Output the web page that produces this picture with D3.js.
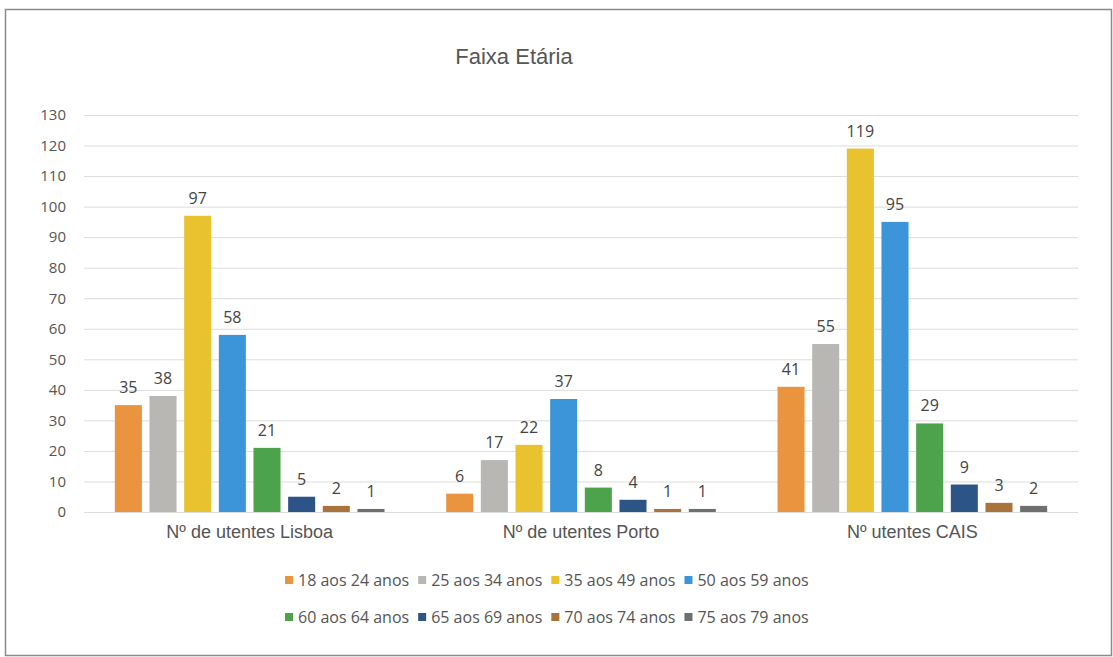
<!DOCTYPE html>
<html><head><meta charset="utf-8">
<script src="https://cdn.jsdelivr.net/npm/d3@7"></script>
<style>body{margin:0;background:#fff}svg{display:block}</style>
</head><body>
<svg id="c" width="1113" height="657"></svg>
<script>
const categories = ["Nº de utentes Lisboa", "Nº de utentes Porto", "Nº utentes CAIS"];
const seriesNames = ["18 aos 24 anos","25 aos 34 anos","35 aos 49 anos","50 aos 59 anos","60 aos 64 anos","65 aos 69 anos","70 aos 74 anos","75 aos 79 anos"];
const s18_24 = [35, 6, 41];
const s25_34 = [38, 17, 55];
const s35_49 = [97, 22, 119];
const s50_59 = [58, 37, 95];
const s60_64 = [21, 8, 29];
const s65_69 = [5, 4, 9];
const s70_74 = [2, 1, 3];
const s75_79 = [1, 1, 2];
const yTicks = [0,10,20,30,40,50,60,70,80,90,100,110,120,130];
const colors = ["#EA9440","#B9B7B3","#E8C22F","#3C95D8","#4DA34B","#2D5486","#A9743C","#6F6F6F"];

(function(){
const seriesValues = [s18_24,s25_34,s35_49,s50_59,s60_64,s65_69,s70_74,s75_79];
const svg = d3.select("#c");
const numFont = "'Open Sans', sans-serif";
const sansFont = "'Liberation Sans', Arial, sans-serif";

// frame
svg.append("rect").attr("x",5.5).attr("y",9.5).attr("width",1106).attr("height",646)
  .attr("fill","#fff").attr("stroke","#8a8a8a").attr("stroke-width",1.5);

const pL = 84, pR = 1078, pT = 115, pB = 512;
const y = d3.scaleLinear().domain([0,130]).range([pB, pT]);
const x0 = d3.scaleBand().domain(categories).range([pL, pR]).padding(0);
const x1 = d3.scaleBand().domain(seriesNames).range([0, x0.bandwidth()]).paddingInner(0.22).paddingOuter(0.89);

// grid
svg.append("g").selectAll("line").data(yTicks).join("line")
  .attr("x1",pL).attr("x2",pR).attr("y1",d=>y(d)+0.5).attr("y2",d=>y(d)+0.5)
  .attr("stroke","#dcdcdc").attr("stroke-width",1);

// y axis
const yAxis = d3.axisLeft(y).tickValues(yTicks).tickSize(0).tickPadding(0);
const ga = svg.append("g").attr("transform",`translate(${pL-18},0)`).call(yAxis);
ga.select(".domain").remove();
ga.selectAll("text").attr("font-family",numFont).attr("font-size",15).attr("fill","#555");

// x axis labels
const xAxis = d3.axisBottom(x0).tickSize(0).tickPadding(0);
const gx = svg.append("g").attr("transform",`translate(0,${pB+13})`).call(xAxis);
gx.select(".domain").remove();
gx.selectAll("text").attr("font-family",sansFont).attr("font-size",18).attr("fill","#555").attr("dy","0.71em");

// bars
const groups = svg.append("g").selectAll("g").data(categories).join("g")
  .attr("transform",d=>`translate(${x0(d)},0)`);
groups.each(function(cat, ci){
  const g = d3.select(this);
  const data = seriesNames.map((s,si)=>({s, si, v: seriesValues[si][ci]}));
  g.selectAll("rect").data(data).join("rect")
    .attr("x",d=>x1(d.s)).attr("width",x1.bandwidth())
    .attr("y",d=>y(d.v)).attr("height",d=>y(0)-y(d.v))
    .attr("fill",d=>colors[d.si]);
  g.selectAll("text").data(data).join("text")
    .attr("x",d=>x1(d.s)+x1.bandwidth()/2).attr("y",d=>y(d.v)-12)
    .attr("text-anchor","middle").attr("font-family",numFont).attr("font-size",16)
    .attr("fill","#444").text(d=>d.v);
});

// title
svg.append("text").attr("x",514).attr("y",64).attr("text-anchor","middle")
  .attr("font-family",sansFont).attr("font-size",22).attr("fill","#555")
  .text("Faixa Etária");

// legend
const rows = [seriesNames.slice(0,4), seriesNames.slice(4)];
const rowY = [580, 617];
rows.forEach((r,ri)=>{
  let xPos = 285;
  const lg = svg.append("g");
  r.forEach(name=>{
    const si = seriesNames.indexOf(name);
    lg.append("rect").attr("x",xPos).attr("y",rowY[ri]-4).attr("width",8).attr("height",8).attr("fill",colors[si]);
    const t = lg.append("text").attr("x",xPos+13).attr("y",rowY[ri]).attr("dy","0.35em")
      .attr("font-family",numFont).attr("font-size",16).attr("fill","#555").text(name);
    xPos += 13 + t.node().getComputedTextLength() + 9;
  });
});
})();
</script>
</body></html>
